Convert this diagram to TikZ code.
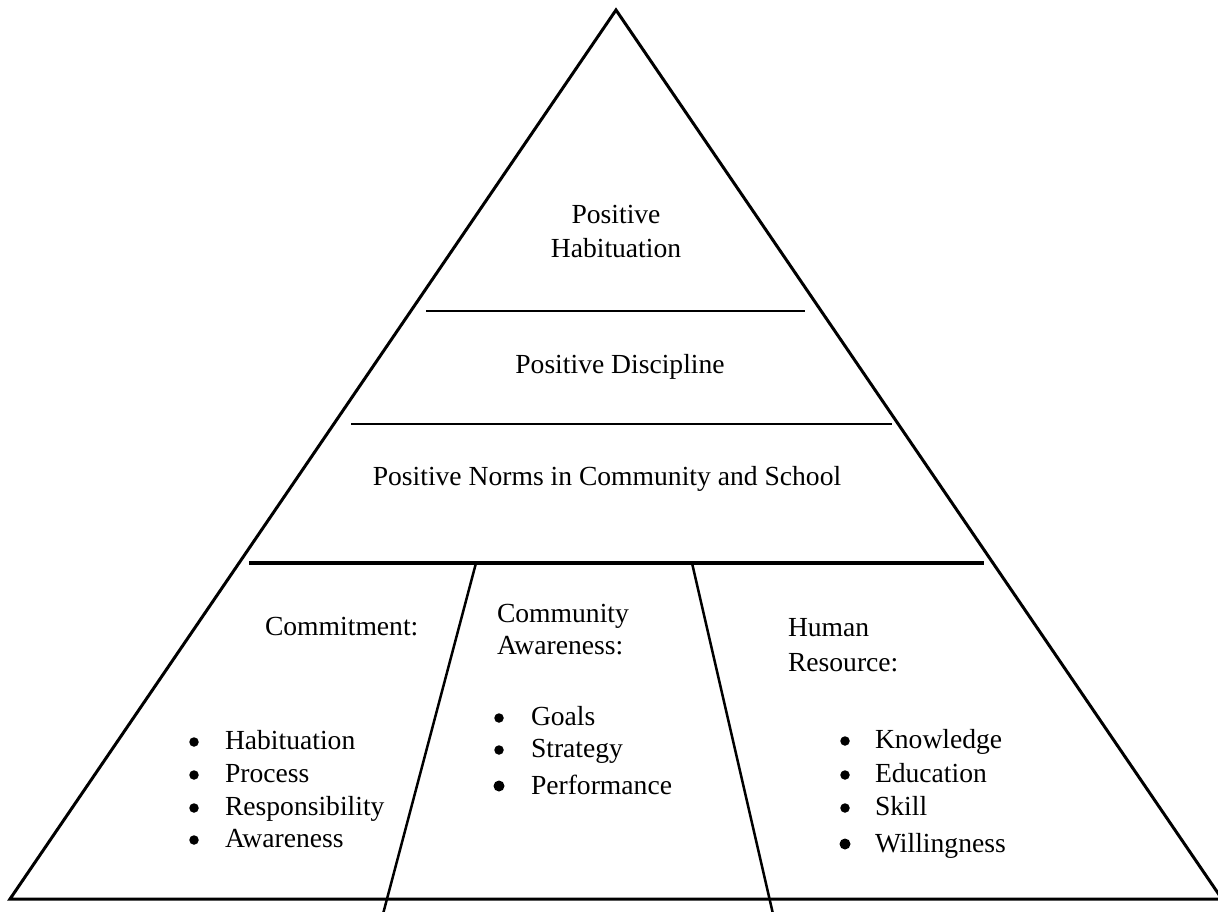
\documentclass[tikz,border=0pt]{standalone}
\usepackage{fontspec}
\setmainfont{Liberation Serif}
\begin{document}
\begin{tikzpicture}[x=1pt,y=1pt,
  every node/.style={inner sep=0pt,outer sep=0pt,font=\fontsize{27.6}{33}\selectfont},
  ctext/.style={anchor=base},
  ltext/.style={anchor=base west},
  bul/.style={circle,fill=black,minimum size=9.5pt,anchor=center},
  bigbul/.style={bul,minimum size=11pt},
  edge/.style={line width=3pt,line join=miter},
  tier/.style={line width=2.5pt},
  thicktier/.style={line width=3.5pt},
  divider/.style={line width=2.5pt}]
\useasboundingbox (0,0) rectangle (1218,-912);
\clip (0,0) rectangle (1218,-912);
% triangle
\coordinate (apex) at (616,-10);
\coordinate (bl) at (10,-899);
\coordinate (br) at (1222,-899);
\draw[edge] (apex) -- (bl) -- (br) -- cycle;
% tier lines
\coordinate (l1a) at (426,-311); \coordinate (l1b) at (805,-311);
\coordinate (l2a) at (351,-424); \coordinate (l2b) at (892,-424);
\coordinate (l3a) at (249,-563); \coordinate (l3b) at (984,-563);
\draw[tier] (l1a) -- (l1b);
\draw[tier] (l2a) -- (l2b);
\draw[thicktier] (l3a) -- (l3b);
% dividers
\coordinate (d1a) at (476,-563); \coordinate (d1b) at (383,-914);
\coordinate (d2a) at (692,-563); \coordinate (d2b) at (773,-914);
\draw[divider] (d1a) -- (d1b);
\draw[divider] (d2a) -- (d2b);
% top texts
\node[ctext] (t1) at (616,-224) {Positive};
\node[ctext] (t2) at (616,-258) {Habituation};
\node[ctext] (t3) at (620,-373) {Positive Discipline};
\node[ctext] (t4) at (607,-485) {Positive Norms in Community and School};
% section titles
\node[ltext] (h1) at (265,-635) {Commitment:};
\node[ltext] (h2a) at (497,-622) {Community};
\node[ltext] (h2b) at (497,-654) {Awareness:};
\node[ltext] (h3a) at (788,-636) {Human};
\node[ltext] (h3b) at (788,-671) {Resource:};
% commitment list
\node[bul] (cb1) at (194,-742) {}; \node[ltext] (c1) at (225,-749) {Habituation};
\node[bul] (cb2) at (194,-775) {}; \node[ltext] (c2) at (225,-782) {Process};
\node[bul] (cb3) at (194,-808) {}; \node[ltext] (c3) at (225,-815) {Responsibility};
\node[bul] (cb4) at (194,-840) {}; \node[ltext] (c4) at (225,-847) {Awareness};
% community list
\node[bul] (mb1) at (499,-718) {}; \node[ltext] (m1) at (531,-725) {Goals};
\node[bul] (mb2) at (499,-750) {}; \node[ltext] (m2) at (531,-757) {Strategy};
\node[bigbul] (mb3) at (499,-786) {}; \node[ltext] (m3) at (531,-794) {Performance};
% human resource list
\node[bul] (hb1) at (845,-741) {}; \node[ltext] (r1) at (875,-748) {Knowledge};
\node[bul] (hb2) at (845,-775) {}; \node[ltext] (r2) at (875,-782) {Education};
\node[bul] (hb3) at (845,-808) {}; \node[ltext] (r3) at (875,-815) {Skill};
\node[bigbul] (hb4) at (845,-844) {}; \node[ltext] (r4) at (875,-852) {Willingness};
\end{tikzpicture}
\end{document}
